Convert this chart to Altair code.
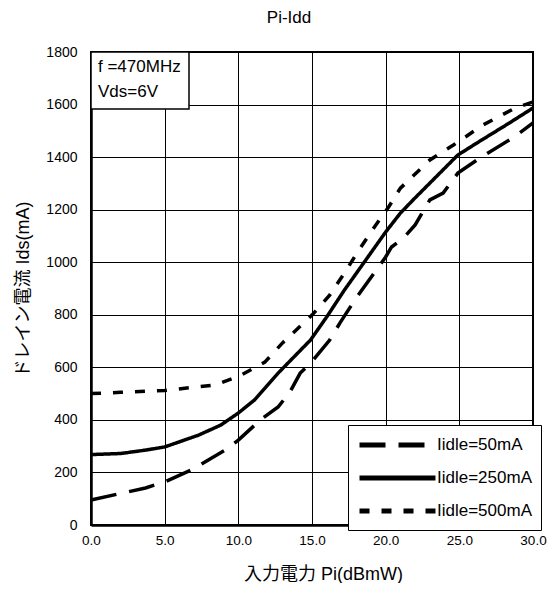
import altair as alt
import pandas as pd

# ---- data ----
series_names = ["Iidle=50mA", "Iidle=250mA", "Iidle=500mA"]

x_50 = [0, 3.7, 5.0, 6.8, 9.1, 10.0, 11.5, 12.7, 13.5, 14.2, 14.9, 16.2, 16.9, 17.9,
        20.0, 20.4, 21.2, 22.0, 23.0, 23.9, 24.9, 26.4, 28.7, 30.0]
y_50 = [95, 141, 164, 209, 285, 323, 400, 449, 506, 578, 616, 704, 769, 856,
        1020, 1058, 1092, 1142, 1237, 1263, 1339, 1397, 1476, 1530]

x_250 = [0, 2.0, 3.7, 5.0, 7.3, 8.8, 10.0, 11.1, 12.7, 14.9, 16.0, 17.2, 20.0,
         21.0, 22.0, 24.9, 26.2, 28.4, 30.0]
y_250 = [268, 272, 285, 297, 342, 380, 426, 476, 578, 704, 792, 894, 1115,
         1187, 1245, 1408, 1454, 1530, 1587]

x_500 = [0, 2.0, 5.0, 8.4, 10.0, 11.8, 13.0, 15.0, 16.2, 17.2, 18.1, 19.1, 20.2,
         21.0, 23.0, 24.6, 26.6, 28.8, 30.0]
y_500 = [500, 505, 512, 533, 565, 620, 693, 799, 875, 959, 1039, 1123, 1210,
         1282, 1389, 1446, 1522, 1587, 1610]

x_ticks = [0, 5, 10, 15, 20, 25, 30]
y_ticks = [0, 200, 400, 600, 800, 1000, 1200, 1400, 1600, 1800]

ann_lines = ["f =470MHz", "Vds=6V"]

title_text = ["Pi-Idd"]
x_title = "入力電力 Pi(dBmW)"
y_title = "ドレイン電流 Ids(mA)"

rows = []
for name, xs, ys in zip(series_names, [x_50, x_250, x_500], [y_50, y_250, y_500]):
    for xv, yv in zip(xs, ys):
        rows.append({"series": name, "Pi": xv, "Ids": yv})
df = pd.DataFrame(rows)

FONT = "Liberation Sans, Arial, Noto Sans CJK JP, sans-serif"
W, H = 442, 473

lines = alt.Chart(df).mark_line(color="black", strokeWidth=3.5).encode(
    x=alt.X("Pi:Q", scale=alt.Scale(domain=[0, 30], nice=False, zero=False),
            axis=alt.Axis(values=x_ticks, format=".1f", title=x_title,
                          labelPadding=8, labelFlush=False, labelFontSize=13.5,
                          titleX=232, titleY=49,
                          titleBaseline="middle", titleAlign="center")),
    y=alt.Y("Ids:Q", scale=alt.Scale(domain=[0, 1800], nice=False),
            axis=alt.Axis(values=y_ticks, format="d", title=y_title,
                          labelPadding=14, labelFlush=False, titleX=-68, titleY=237,
                          titleAngle=270, titleBaseline="middle", titleAlign="center")),
    strokeDash=alt.StrokeDash(
        "series:N",
        scale=alt.Scale(domain=series_names, range=[[26, 13], [1, 0], [10, 12]]),
        legend=alt.Legend(title=None, orient="none", legendX=257, legendY=373,
                          fillColor="white", strokeColor="black", padding=9,
                          symbolType="M-1,0H7.94", symbolSize=289, symbolStrokeWidth=5,
                          symbolStrokeColor="black", symbolFillColor="transparent",
                          labelFontSize=17, labelOffset=58,
                          rowPadding=12, labelFont=FONT, labelColor="black",
                          labelLimit=200),
    ),
    order=alt.Order("Pi:Q"),
)

ann_df = pd.DataFrame({"txt": ann_lines, "row": [0, 1]})
ann_box = alt.Chart(ann_df.head(1)).mark_rect(
    fill="white", stroke="black", strokeWidth=1.5
).encode(x=alt.value(0), x2=alt.value(98), y=alt.value(0), y2=alt.value(57))

ann_t1 = alt.Chart(ann_df.head(1)).mark_text(
    align="left", baseline="alphabetic", font=FONT, fontSize=17, color="black"
).encode(x=alt.value(7), y=alt.value(20), text="txt:N")
ann_t2 = alt.Chart(ann_df.tail(1)).mark_text(
    align="left", baseline="alphabetic", font=FONT, fontSize=17, color="black"
).encode(x=alt.value(7), y=alt.value(45), text="txt:N")

title_mark = alt.Chart(pd.DataFrame({"t": title_text})).mark_text(
    align="center", baseline="alphabetic", font=FONT, fontSize=17, color="black"
).encode(x=alt.value(198), y=alt.value(-29), text="t:N")

chart = alt.layer(lines, ann_box, ann_t1, ann_t2, title_mark).properties(
    width=W, height=H,
    background="white",
    autosize=alt.AutoSizeParams(type="none"),
    padding={"left": 83, "top": 44, "right": 14, "bottom": 58},
).configure_view(
    stroke="black", strokeWidth=2
).configure_axis(
    domainColor="black", domainWidth=2.5, gridColor="black", gridWidth=1,
    gridOpacity=1, ticks=False, labelFont=FONT, labelFontSize=14,
    labelColor="black", titleFont=FONT, titleFontSize=18, titleColor="black",
    titleFontWeight="normal"
)

chart.save("out.html", embed_options={"renderer": "svg", "actions": False})
